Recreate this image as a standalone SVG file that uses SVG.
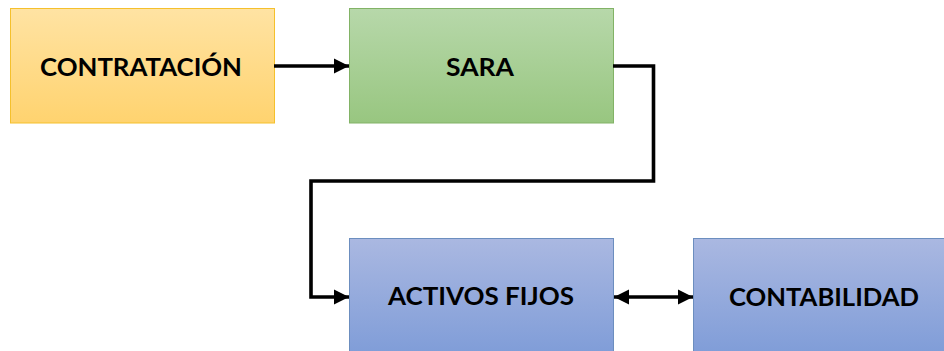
<svg xmlns="http://www.w3.org/2000/svg" width="944" height="351" viewBox="0 0 944 351">
<defs>
<linearGradient id="gO" x1="0" y1="0" x2="0" y2="1"><stop offset="0" stop-color="#FFE3A3"/><stop offset="1" stop-color="#FFD36F"/></linearGradient>
<linearGradient id="gG" x1="0" y1="0" x2="0" y2="1"><stop offset="0" stop-color="#B7D8AA"/><stop offset="1" stop-color="#98C680"/></linearGradient>
<linearGradient id="gB" x1="0" y1="0" x2="0" y2="1"><stop offset="0" stop-color="#AAB8E1"/><stop offset="1" stop-color="#809DD8"/></linearGradient>
<marker id="ah" viewBox="0 0 10 10" refX="10" refY="5" markerWidth="4.2" markerHeight="4.4" markerUnits="strokeWidth" orient="auto-start-reverse"><path d="M0,0 L10,5 L0,10 z" fill="#000"/></marker>
</defs>
<style>
.lbl{font-family:"Lato","Open Sans","Liberation Sans",sans-serif;font-weight:700;font-size:25px;fill:#000;text-anchor:middle}
.con{fill:none;stroke:#000;stroke-width:3.6}
</style>
<g id="contratacion"><rect x="10.5" y="8.5" width="264" height="114.5" fill="url(#gO)" stroke="#F5C02C" stroke-width="1"/><text class="lbl" x="141" y="76" textLength="202" lengthAdjust="spacingAndGlyphs">CONTRATACIÓN</text></g>
<g id="sara"><rect x="349.5" y="8.5" width="264" height="114.5" fill="url(#gG)" stroke="#82B366" stroke-width="1"/><text class="lbl" x="480" y="76" textLength="68" lengthAdjust="spacingAndGlyphs">SARA</text></g>
<g id="activos"><rect x="349.5" y="238.5" width="264" height="114" fill="url(#gB)" stroke="#6C8EBF" stroke-width="1"/><text class="lbl" x="481" y="305" textLength="186" lengthAdjust="spacingAndGlyphs">ACTIVOS FIJOS</text></g>
<g id="contabilidad"><rect x="693.5" y="238.5" width="252" height="114" fill="url(#gB)" stroke="#6C8EBF" stroke-width="1"/><text class="lbl" x="824" y="306" textLength="190" lengthAdjust="spacingAndGlyphs">CONTABILIDAD</text></g>
<g id="connectors">
<path class="con" d="M274,66 L349,66" marker-end="url(#ah)"/>
<path class="con" d="M613,66 L653.5,66 L653.5,181 L311,181 L311,297 L349,297" marker-end="url(#ah)"/>
<path class="con" d="M614,297 L693,297" marker-start="url(#ah)" marker-end="url(#ah)"/>
</g>
</svg>
